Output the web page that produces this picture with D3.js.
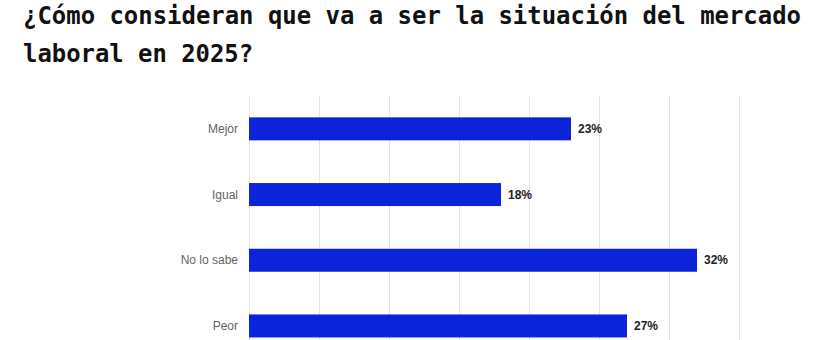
<!DOCTYPE html>
<html>
<head>
<meta charset="utf-8">
<script src="https://cdn.jsdelivr.net/npm/d3@7"></script>
<style>
  body { margin: 0; background: #fff; }
  svg { display: block; }
</style>
</head>
<body>
<div id="viz"></div>
<script>
const categories = ['Mejor', 'Igual', 'No lo sabe', 'Peor'];
const values = [23, 18, 32, 27];
const xTicks = [0, 5, 10, 15, 20, 25, 30, 35];
const titleLines = ['¿Cómo consideran que va a ser la situación del mercado', 'laboral en 2025?'];

const width = 825;
const height = 340;
const margin = {top: 96, left: 249, right: 86};
const barColor = '#0a23db';

const svg = d3.select('#viz')
  .append('svg')
    .attr('width', width)
    .attr('height', height);

// title in two lines, stretched a little to match the reference widths
const titleWidths = [778, 230];
svg.selectAll('text.title')
  .data(titleLines)
  .join('text')
    .attr('class', 'title')
    .attr('x', 23)
    .attr('y', (d, i) => 24 + i * 38)
    .attr('textLength', (d, i) => titleWidths[i])
    .attr('lengthAdjust', 'spacingAndGlyphs')
    .style('font-family', '"DejaVu Sans Mono", monospace')
    .style('font-weight', 700)
    .style('font-size', '24px')
    .attr('fill', '#111')
    .text(d => d);

const xScale = d3.scaleLinear()
  .domain([0, 35])
  .range([margin.left, width - margin.right]);

const yScale = d3.scaleBand()
  .domain(categories)
  .range([margin.top, margin.top + 262.8])
  .paddingInner(0.65)
  .paddingOuter(0.325);

// vertical grid lines
svg.append('g')
  .selectAll('line')
  .data(xTicks)
  .join('line')
    .attr('x1', d => Math.round(xScale(d)) + 0.5)
    .attr('x2', d => Math.round(xScale(d)) + 0.5)
    .attr('y1', margin.top)
    .attr('y2', height)
    .attr('stroke', '#e4e4e4')
    .attr('stroke-width', 1);

// bars
svg.append('g')
  .selectAll('rect')
  .data(values)
  .join('rect')
    .attr('x', xScale(0))
    .attr('y', (d, i) => yScale(categories[i]))
    .attr('width', d => xScale(d) - xScale(0))
    .attr('height', yScale.bandwidth())
    .attr('fill', barColor);

// category labels
svg.append('g')
  .selectAll('text')
  .data(categories)
  .join('text')
    .attr('x', xScale(0) - 11)
    .attr('y', d => yScale(d) + yScale.bandwidth() / 2)
    .attr('dy', '0.35em')
    .attr('text-anchor', 'end')
    .style('font-family', '"Liberation Sans", Arial, sans-serif')
    .style('font-size', '12px')
    .attr('fill', '#666')
    .text(d => d);

// value labels
svg.append('g')
  .selectAll('text')
  .data(values)
  .join('text')
    .attr('x', d => xScale(d) + 7)
    .attr('y', (d, i) => yScale(categories[i]) + yScale.bandwidth() / 2)
    .attr('dy', '0.35em')
    .style('font-family', '"Liberation Sans", Arial, sans-serif')
    .style('font-size', '12px')
    .style('font-weight', 700)
    .attr('fill', '#222')
    .text(d => d + '%');
</script>
</body>
</html>
